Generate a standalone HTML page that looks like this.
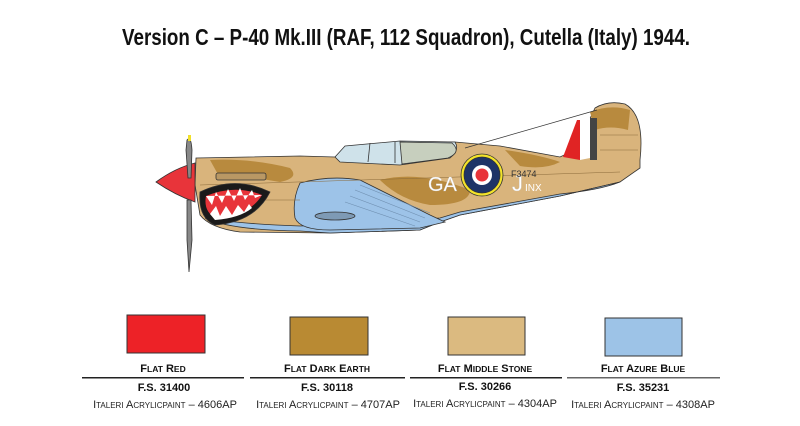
<!DOCTYPE html>
<html><head><meta charset="utf-8"><style>
html,body{margin:0;padding:0;background:#fff;}
svg{display:block;}
text{font-family:"Liberation Sans",sans-serif;}
</style></head><body>
<svg width="800" height="426" viewBox="0 0 800 426" xmlns="http://www.w3.org/2000/svg">
<text x="406" y="45" font-size="23" font-weight="bold" text-anchor="middle" textLength="568" lengthAdjust="spacingAndGlyphs" fill="#111">Version C – P-40 Mk.III (RAF, 112 Squadron), Cutella (Italy) 1944.</text>

<!-- plane -->
<g stroke="#333" stroke-width="0.8">
<!-- fuselage -->
<path d="M196,158 L300,156 L335,157 L345,150 L400,142 L455,142 L500,146 L560,157 L575,150 L595,108 Q608,100 625,104 Q645,115 640,160 L640,168 L620,182 L560,196 L460,215 L440,222 L420,230 L330,233 L240,232 Q210,228 200,215 L195,185 Z" fill="#d9b47c"/>
<!-- camo patches -->
<path d="M210,160 Q250,158 290,168 Q300,178 280,182 Q250,176 220,178 Z" fill="#b88a3e" stroke="none"/>
<path d="M380,180 Q420,170 470,190 Q470,205 430,205 Q400,200 380,180 Z" fill="#b88a3e" stroke="none"/>
<path d="M505,150 Q540,155 560,162 Q545,170 520,166 Z" fill="#b88a3e" stroke="none"/>
<path d="M590,112 Q610,104 630,110 L628,130 Q610,125 595,130 Z" fill="#b88a3e" stroke="none"/>
<!-- blue belly -->
<path d="M205,218 Q230,230 300,231 L330,233 L420,230 L440,222 L460,215 L560,196 L620,182 Q600,190 560,194 L460,212 L440,218 L330,225 L300,226 Q240,224 205,218 Z" fill="#9dc3e8"/>
<!-- wing -->
<path d="M300,183 Q330,175 360,180 L430,215 L445,222 L420,228 L330,230 Q300,230 295,218 Q292,200 300,183 Z" fill="#9dc3e8"/>
<g stroke="#6f8fb0" stroke-width="0.6" fill="none">
<path d="M360,185 L430,213"/><path d="M355,190 L425,218"/><path d="M350,196 L420,222"/><path d="M345,202 L415,226"/>
</g>
<ellipse cx="335" cy="216" rx="20" ry="4" fill="#7e9ab5"/>
<!-- canopy -->
<path d="M335,157 L345,146 L400,141 L455,142 Q460,150 450,158 L400,165 L340,162 Z" fill="#cfe2ea"/>
<path d="M400,142 L452,143 Q462,152 448,158 L402,164 Z" fill="#c7cfbe"/>
<line x1="370" y1="143" x2="368" y2="162"/><line x1="395" y1="142" x2="395" y2="163"/>
<!-- antenna wire -->
<line x1="465" y1="148" x2="597" y2="110" stroke-width="0.7"/>
<!-- rudder flash -->
<path d="M563,157 L577,120 L580,120 L580,160 Z" fill="#e02424" stroke="none"/>
<path d="M580,118 L590,118 L590,158 L580,160 Z" fill="#fff" stroke="none"/>
<path d="M590,118 L597,118 L597,160 L590,160 Z" fill="#444" stroke="none"/>
<g stroke="#8a6a3a" stroke-width="0.5">
<line x1="200" y1="185" x2="620" y2="172"/><line x1="210" y1="200" x2="300" y2="200"/>
<line x1="600" y1="135" x2="638" y2="135"/><line x1="600" y1="150" x2="638" y2="150"/>
</g>
<!-- exhausts -->
<rect x="216" y="173" width="50" height="7" rx="2" fill="#b99864"/>
<!-- shark mouth -->
<path d="M200,192 Q235,175 270,192 Q255,222 215,225 Q198,218 200,192 Z" fill="#1a1a1a"/>
<path d="M206,196 Q235,184 262,195 Q250,215 217,219 Q203,212 206,196 Z" fill="#e8343a" stroke="none"/>
<path d="M206,196 L212,205 L216,192 L222,203 L228,189 L234,201 L240,188 L245,200 L252,190 L255,198 L262,195 Z" fill="#fff" stroke="none"/>
<path d="M210,214 L216,206 L220,216 L226,206 L232,215 L238,205 L244,212 L249,204 L252,208 Q240,218 215,220 Z" fill="#fff" stroke="none"/>
<!-- roundel -->
<circle cx="482" cy="175" r="21" fill="#f3e32a"/>
<circle cx="482" cy="175" r="18" fill="#1e3467"/>
<circle cx="482" cy="175" r="10" fill="#fff" stroke="none"/>
<circle cx="482" cy="175" r="6.5" fill="#e8343a" stroke="none"/>
<!-- spinner and prop -->
<path d="M195,163 Q175,168 156,182 Q175,195 195,202 Z" fill="#e8343a"/>
<path d="M187,140 Q191,135 192,150 L191,178 L188,178 L186,150 Z" fill="#888"/>
<path d="M187,200 L191,200 L192,240 L189,272 L187,240 Z" fill="#888"/>
<rect x="188" y="135" width="3" height="6" fill="#f1e02a" stroke="none"/>
</g>
<text x="428" y="191" font-size="20" fill="#fff" stroke="#ccc" stroke-width="0.3">GA</text>
<text x="512" y="191" font-size="22" fill="#fff" stroke="#ccc" stroke-width="0.3">J</text>
<text x="525" y="191" font-size="10" fill="#fff">INX</text>
<text x="511" y="177" font-size="9" fill="#333">F3474</text>

<!-- swatches -->
<g stroke="#333" stroke-width="1">
<rect x="127" y="315" width="78" height="38" fill="#ed2227"/>
<rect x="290" y="317" width="78" height="38" fill="#b98a33"/>
<rect x="448" y="317" width="77" height="38" fill="#dbba80"/>
<rect x="605" y="318" width="77" height="38" fill="#9dc3e7"/>
</g>
<g fill="#222" stroke="none">
<rect x="82" y="377" width="162" height="1.5"/>
<rect x="250" y="377" width="155" height="1.5"/>
<rect x="410" y="377" width="152" height="1.5"/>
<rect x="567" y="377" width="153" height="1.5" fill="#666"/>
</g>
<g font-size="11" font-weight="bold" text-anchor="middle" fill="#111">
<text x="163" y="372">F<tspan font-size="8.5">LAT</tspan> R<tspan font-size="8.5">ED</tspan></text>
<text x="327" y="372">F<tspan font-size="8.5">LAT</tspan> D<tspan font-size="8.5">ARK</tspan> E<tspan font-size="8.5">ARTH</tspan></text>
<text x="485" y="372">F<tspan font-size="8.5">LAT</tspan> M<tspan font-size="8.5">IDDLE</tspan> S<tspan font-size="8.5">TONE</tspan></text>
<text x="643" y="372">F<tspan font-size="8.5">LAT</tspan> A<tspan font-size="8.5">ZURE</tspan> B<tspan font-size="8.5">LUE</tspan></text>
<text x="164" y="391">F.S. 31400</text>
<text x="327" y="391">F.S. 30118</text>
<text x="485" y="390">F.S. 30266</text>
<text x="643" y="391">F.S. 35231</text>
</g>
<g font-size="11" text-anchor="middle" fill="#222">
<text x="165" y="408">I<tspan font-size="8">TALERI</tspan> A<tspan font-size="8">CRYLICPAINT</tspan> – 4606AP</text>
<text x="328" y="408">I<tspan font-size="8">TALERI</tspan> A<tspan font-size="8">CRYLICPAINT</tspan> – 4707AP</text>
<text x="485" y="407">I<tspan font-size="8">TALERI</tspan> A<tspan font-size="8">CRYLICPAINT</tspan> – 4304AP</text>
<text x="643" y="408">I<tspan font-size="8">TALERI</tspan> A<tspan font-size="8">CRYLICPAINT</tspan> – 4308AP</text>
</g>
</svg>
</body></html>
